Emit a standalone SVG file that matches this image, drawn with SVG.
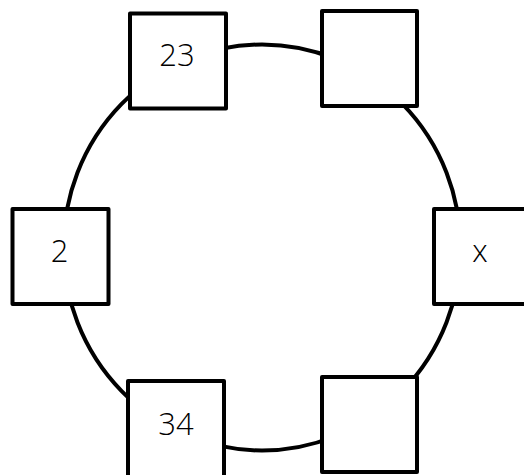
<svg xmlns="http://www.w3.org/2000/svg" width="524" height="475" viewBox="0 0 524 475">
<style>
.box{fill:#fff;stroke:#000;stroke-width:4;stroke-linejoin:round}
.lbl{font-family:"Open Sans","Noto Sans",sans-serif;font-weight:300;font-size:31px;fill:#000;text-anchor:middle}
.ring{fill:none;stroke:#000;stroke-width:4}
</style>
<rect width="524" height="475" fill="#fff"/>
<g id="connectors">
<ellipse class="ring" cx="262" cy="247.5" rx="198.5" ry="203"/>
</g>
<g id="n1"><rect class="box" x="130" y="13.5" width="96" height="95"/><text class="lbl" x="177" y="66">23</text></g>
<g id="n2"><rect class="box" x="322" y="11" width="95" height="95"/></g>
<g id="n3"><rect class="box" x="12.5" y="209" width="96" height="95"/><text class="lbl" x="59.5" y="262">2</text></g>
<g id="n4"><rect class="box" x="434" y="209" width="96" height="95"/><text class="lbl" x="480" y="262">x</text></g>
<g id="n5"><rect class="box" x="128" y="381" width="96" height="98"/><text class="lbl" x="176" y="435">34</text></g>
<g id="n6"><rect class="box" x="322" y="377" width="95" height="95"/></g>
</svg>
